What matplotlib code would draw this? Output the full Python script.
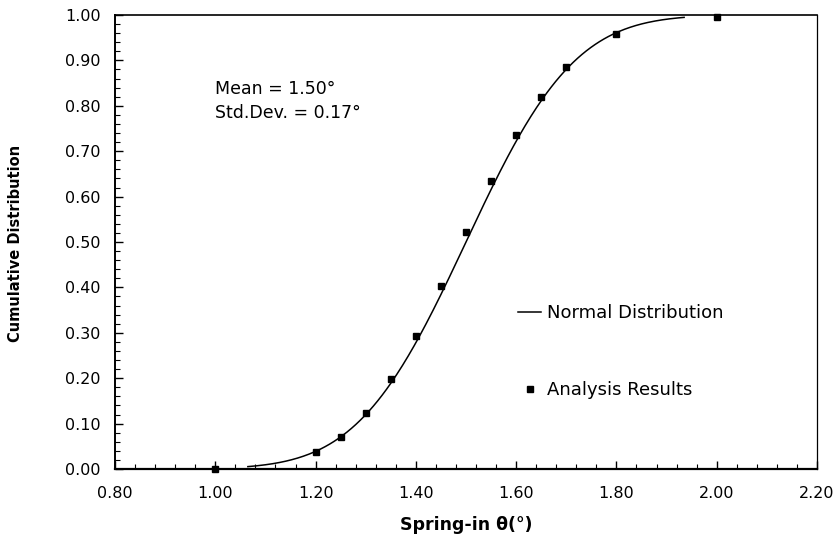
import math
import numpy as np
import matplotlib
matplotlib.use("Agg")
import matplotlib.pyplot as plt
from matplotlib.ticker import MultipleLocator, FormatStrFormatter

plt.rcParams['font.family'] = ['DejaVu Sans']

# Analysis results
spring_in = [1.00, 1.20, 1.25, 1.30, 1.35, 1.40, 1.45, 1.50, 1.55, 1.60, 1.65, 1.70, 1.80, 2.00]
cum_dist = [0.000, 0.038, 0.071, 0.123, 0.198, 0.294, 0.404, 0.521, 0.634, 0.736, 0.819, 0.885, 0.958, 0.996]

# Normal distribution fit parameters (as annotated on the chart)
mean_deg = 1.50
std_deg = 0.17
curve_range = [1.065, 1.935]

x_ticks = [0.80, 1.00, 1.20, 1.40, 1.60, 1.80, 2.00, 2.20]
y_ticks = [0.00, 0.10, 0.20, 0.30, 0.40, 0.50, 0.60, 0.70, 0.80, 0.90, 1.00]

fig = plt.figure(figsize=(8.36, 5.40), dpi=100)
ax = fig.add_axes([115/836, 1-469/540, (817-115)/836, (469-15)/540])

xc = np.linspace(curve_range[0], curve_range[1], 300)
yc = np.array([0.5*(1+math.erf((v-mean_deg)/(std_deg*math.sqrt(2)))) for v in xc])
ax.plot(xc, yc, color='black', lw=1.1, label='Normal Distribution', zorder=2)
ax.plot(spring_in, cum_dist, linestyle='none', marker='s', markersize=5,
        color='black', label='Analysis Results', zorder=3, clip_on=False)

ax.set_xlim(0.8, 2.2)
ax.set_ylim(0.0, 1.0)
ax.set_xticks(x_ticks)
ax.set_yticks(y_ticks)
ax.xaxis.set_minor_locator(MultipleLocator(0.04))
ax.yaxis.set_minor_locator(MultipleLocator(0.02))
ax.xaxis.set_major_formatter(FormatStrFormatter('%.2f'))
ax.yaxis.set_major_formatter(FormatStrFormatter('%.2f'))
ax.tick_params(which='major', direction='in', length=6, width=1.0, labelsize=11.5)
ax.tick_params(which='minor', direction='in', length=3.5, width=0.8)
ax.tick_params(axis='y', which='major', pad=10.5)
ax.tick_params(axis='x', which='major', pad=12.5)

ax.spines['bottom'].set_linewidth(1.6)
ax.spines['left'].set_linewidth(1.4)
ax.spines['top'].set_linewidth(1.2)
ax.spines['right'].set_linewidth(0.9)

fig.text(466/836, 1-525/540, 'Spring-in θ(°)', fontsize=12.5, fontweight='bold',
         ha='center', va='center')
fig.text(16/836, 1-243.5/540, 'Cumulative Distribution', fontsize=10.5, fontweight='bold',
         rotation=90, ha='center', va='center')

ax.text(1.0, 0.836, 'Mean = 1.50°', fontsize=12.5, va='center', ha='left')
ax.text(1.0, 0.784, 'Std.Dev. = 0.17°', fontsize=12.5, va='center', ha='left')

leg = ax.legend(loc='center left', bbox_to_anchor=(511/836, 1-351.5/540),
                bbox_transform=fig.transFigure, frameon=False, fontsize=13,
                handlelength=1.28, handletextpad=0.33, labelspacing=3.28,
                borderaxespad=0, markerscale=0.75)

fig.savefig('out.png', dpi=100)
